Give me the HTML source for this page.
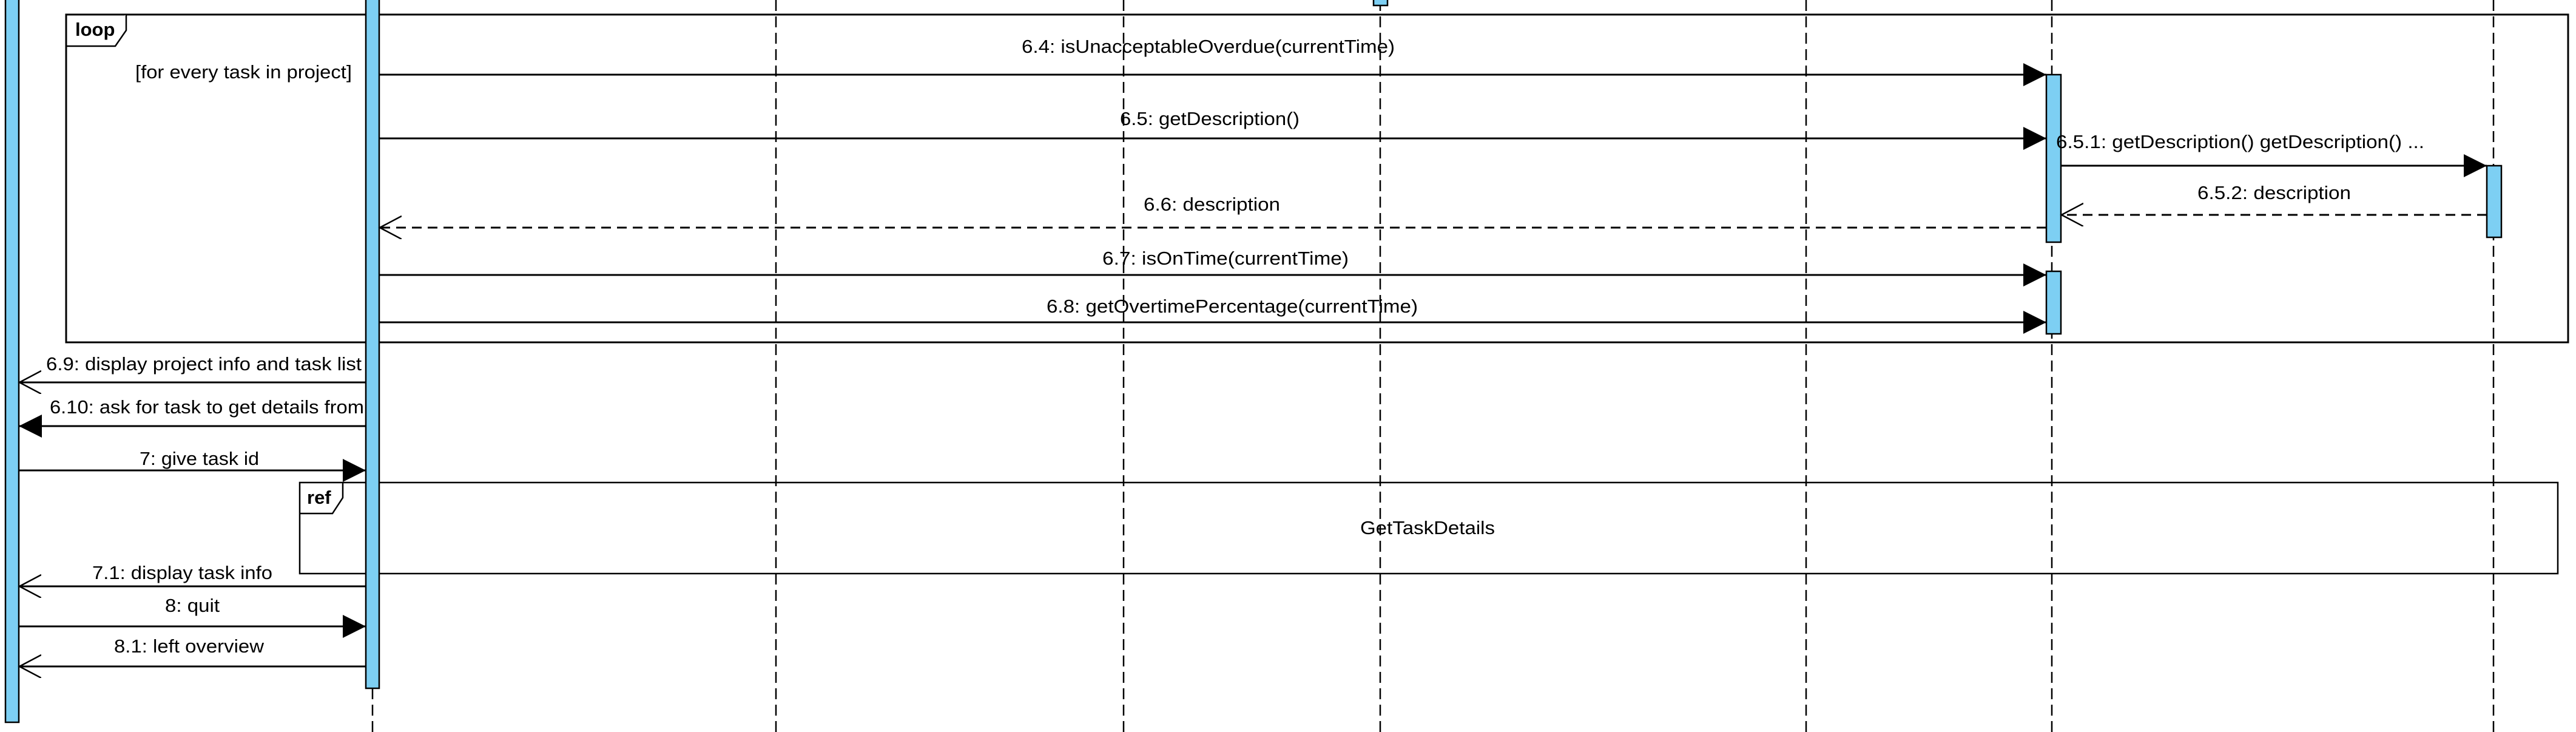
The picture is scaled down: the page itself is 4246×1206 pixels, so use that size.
<!DOCTYPE html>
<html><head><meta charset="utf-8"><style>html,body{margin:0;padding:0;background:#fff}svg{display:block}text{font-family:"Liberation Sans",Arial,sans-serif;font-size:31px;fill:#000}</style></head>
<body>
<svg width="4246" height="1206" viewBox="0 0 4246 1206" xmlns="http://www.w3.org/2000/svg">
<defs>
<marker id="f" markerWidth="40" markerHeight="40" refX="38" refY="19" orient="auto" markerUnits="userSpaceOnUse"><path d="M0,0 L38,19 L0,38 Z" fill="#000"/></marker>
<marker id="o" markerWidth="40" markerHeight="40" refX="36" refY="19" orient="auto" markerUnits="userSpaceOnUse"><path d="M0,0 L36,19 L0,38" fill="none" stroke="#000" stroke-width="2.5"/></marker>
</defs>
<g stroke="#000" stroke-width="2.5" stroke-dasharray="18,9" fill="none">
<line x1="614" y1="0" x2="614" y2="1206"/>
<line x1="1279" y1="0" x2="1279" y2="1206"/>
<line x1="1852" y1="0" x2="1852" y2="1206"/>
<line x1="2275" y1="0" x2="2275" y2="1206"/>
<line x1="2977" y1="0" x2="2977" y2="1206"/>
<line x1="3382" y1="0" x2="3382" y2="1206"/>
<line x1="4110" y1="0" x2="4110" y2="1206"/>
</g>
<!-- loop frame -->
<rect x="109" y="24" width="4124" height="540" fill="none" stroke="#000" stroke-width="3"/>
<path d="M109,76 L190,76 L208,50 L208,24" fill="#fff" stroke="#000" stroke-width="2.5"/>
<text x="124" y="59" style="font-weight:bold">loop</text>
<text x="223" y="129" textLength="357" lengthAdjust="spacingAndGlyphs">[for every task in project]</text>
<!-- ref frame -->
<rect x="494" y="795" width="3722" height="150" fill="none" stroke="#000" stroke-width="2.5"/>
<path d="M494,846 L548,846 L565,820 L565,795" fill="#fff" stroke="#000" stroke-width="2.5"/>
<text x="506" y="830" style="font-weight:bold">ref</text>
<text x="2242" y="880" textLength="222" lengthAdjust="spacingAndGlyphs">GetTaskDetails</text>
<!-- activation bars -->
<g fill="#7dcff3" stroke="#000" stroke-width="2.5">
<rect x="9" y="-5" width="22" height="1195"/>
<rect x="603" y="-5" width="22" height="1139"/>
<rect x="2264" y="-5" width="23" height="14"/>
<rect x="3373" y="123" width="24" height="276"/>
<rect x="3373" y="447" width="24" height="103"/>
<rect x="4099" y="273" width="24" height="118"/>
</g>
<!-- messages -->
<g stroke="#000" stroke-width="3" fill="none">
<line x1="625" y1="123" x2="3373" y2="123" marker-end="url(#f)"/>
<line x1="625" y1="228" x2="3373" y2="228" marker-end="url(#f)"/>
<line x1="3397" y1="273" x2="4099" y2="273" marker-end="url(#f)"/>
<line x1="4099" y1="354" x2="3398" y2="354" stroke-dasharray="16,10" marker-end="url(#o)"/>
<line x1="3373" y1="375" x2="626" y2="375" stroke-dasharray="16,10" marker-end="url(#o)"/>
<line x1="625" y1="453" x2="3373" y2="453" marker-end="url(#f)"/>
<line x1="625" y1="531" x2="3373" y2="531" marker-end="url(#f)"/>
<line x1="603" y1="630" x2="32" y2="630" marker-end="url(#o)"/>
<line x1="603" y1="702" x2="31" y2="702" marker-end="url(#f)"/>
<line x1="31" y1="775" x2="603" y2="775" marker-end="url(#f)"/>
<line x1="603" y1="966" x2="32" y2="966" marker-end="url(#o)"/>
<line x1="31" y1="1032" x2="603" y2="1032" marker-end="url(#f)"/>
<line x1="603" y1="1098" x2="32" y2="1098" marker-end="url(#o)"/>
</g>
<g>
<text x="1684" y="87" textLength="615" lengthAdjust="spacingAndGlyphs">6.4: isUnacceptableOverdue(currentTime)</text>
<text x="1846" y="206" textLength="296" lengthAdjust="spacingAndGlyphs">6.5: getDescription()</text>
<text x="3389" y="244" textLength="607" lengthAdjust="spacingAndGlyphs">6.5.1: getDescription() getDescription() ...</text>
<text x="3622" y="328" textLength="253" lengthAdjust="spacingAndGlyphs">6.5.2: description</text>
<text x="1885" y="347" textLength="225" lengthAdjust="spacingAndGlyphs">6.6: description</text>
<text x="1817" y="436" textLength="406" lengthAdjust="spacingAndGlyphs">6.7: isOnTime(currentTime)</text>
<text x="1725" y="515" textLength="612" lengthAdjust="spacingAndGlyphs">6.8: getOvertimePercentage(currentTime)</text>
<text x="76" y="610" textLength="520" lengthAdjust="spacingAndGlyphs">6.9: display project info and task list</text>
<text x="82" y="681" textLength="518" lengthAdjust="spacingAndGlyphs">6.10: ask for task to get details from</text>
<text x="230" y="766" textLength="197" lengthAdjust="spacingAndGlyphs">7: give task id</text>
<text x="152" y="954" textLength="297" lengthAdjust="spacingAndGlyphs">7.1: display task info</text>
<text x="272" y="1008" textLength="90" lengthAdjust="spacingAndGlyphs">8: quit</text>
<text x="188" y="1075" textLength="247" lengthAdjust="spacingAndGlyphs">8.1: left overview</text>
</g>
</svg>
</body></html>
